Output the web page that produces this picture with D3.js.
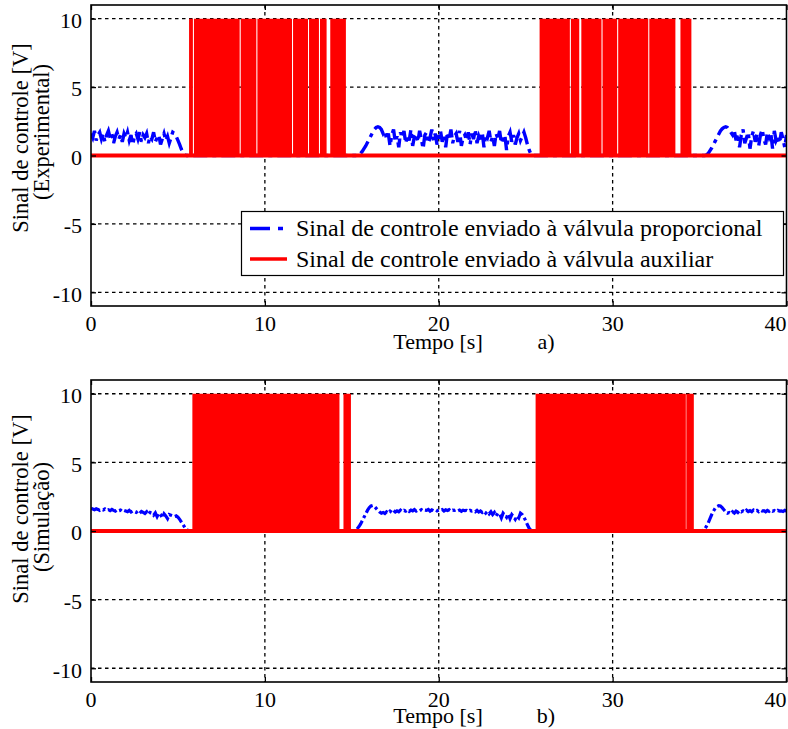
<!DOCTYPE html>
<html><head><meta charset="utf-8">
<script src="https://cdn.jsdelivr.net/npm/d3@7"></script>
</head><body style="margin:0;background:#fff">
<svg id="c" width="788" height="729" font-family="Liberation Serif"></svg>
<script>
// ---------- data ----------
const xTicks = [0, 10, 20, 30, 40];
const yTicks = [-10, -5, 0, 5, 10];
const xDomain = [0, 40];
const yDomain = [-11, 11];
const legendLabels = ["Sinal de controle enviado à válvula proporcional", "Sinal de controle enviado à válvula auxiliar"];

// auxiliary valve (0 / 10 V) : intervals where the signal is at 10 V
const auxExpOn = [[5.64,5.86],[5.92,8.55],[8.61,9.51],[9.57,11.56],[11.62,12.48],[12.54,13.11],[13.17,13.55],[13.76,14.66],
                  [25.80,27.54],[27.60,28.08],[28.20,29.36],[29.42,30.26],[30.32,32.05],[32.11,33.61],[33.90,34.53]];
const auxSimOn = [[5.83,14.29],[14.52,14.95],[25.57,34.21],[34.24,34.67]];

// proportional valve, experimental (segments sampled every 0.1 s)
const propExpStart = [0, 15.3, 35.3];
const propExpA = [1.6,1.3,1.8,1.1,1.5,1.7,1.2,1.6,1.0,1.5,
                  1.8,1.3,1.6,0.9,1.4,1.7,1.2,1.5,1.0,1.6,
                  1.3,1.7,1.1,1.5,0.8,1.4,1.6,1.2,1.7,1.0,
                  1.5,1.3,1.6,0.9,1.4,1.2,1.7,1.0,1.3,1.5,
                  0.8,1.2,1.6,1.1,1.4,0.9,1.3,
                  1.7,1.6,1.4,1.1,0.8,0.45,0.2,0.05,0,0];
const propExpB = [0,0.05,0.15,0.3,0.5,0.7,0.95,1.2,1.45,1.7,1.9,2.05,2.1,2.05,1.9,1.6,
                  1.8,1.2,1.6,0.7,1.5,1.9,1.0,1.4,0.6,1.7,
                  1.3,1.8,0.9,1.5,1.1,1.9,0.7,1.4,1.6,1.0,
                  1.8,1.2,0.5,1.5,1.7,0.9,1.3,1.9,1.1,1.6,
                  0.8,1.4,1.8,1.0,1.5,0.6,1.7,1.2,1.9,0.9,
                  1.4,1.6,1.0,1.8,0.7,1.3,1.5,1.1,1.7,0.8,
                  1.6,1.2,1.9,0.9,1.4,1.0,1.7,0.6,1.5,1.3,
                  1.8,1.0,1.4,0.7,1.6,1.2,1.8,0.9,1.3,1.5,
                  0.4,1.4,1.7,1.0,1.5,0.8,1.3,1.6,1.1,1.4,
                  1.7,1.3,0.8,0.4,0.1,0,0];
const propExpC = [0,0.05,0.15,0.35,0.55,0.8,1.05,1.3,1.55,1.8,1.95,2.05,2.1,2.05,1.9,1.7,1.5,
                  1.8,1.1,1.6,0.6,1.5,1.9,0.9,1.3,1.7,0.5,
                  1.4,1.8,1.0,1.6,0.7,1.5,1.9,1.2,0.8,1.7,
                  1.3,1.6,0.5,1.8,1.1,1.4,0.9,1.7,1.2,0.6,1.5];

// proportional valve, simulation (segments sampled every 0.1 s)
const propSimStart = [0, 15.0, 34.9];
const propSimA = [1.65,1.6,1.55,1.62,1.57,1.5,1.58,1.53,1.6,1.5,
                  1.55,1.48,1.57,1.5,1.45,1.55,1.48,1.52,1.42,1.5,
                  1.45,1.4,1.5,1.38,1.46,1.4,1.35,1.45,1.3,1.42,
                  1.35,1.28,1.4,1.2,1.35,1.3,1.15,1.32,1.05,1.3,
                  1.2,0.95,1.25,1.1,0.9,1.2,1.15,1.1,1.05,1.1,
                  1.0,0.85,0.65,0.45,0.25,0.1,0.02,0,0];
const propSimB = [0,0,0.05,0.15,0.3,0.5,0.75,1.0,1.25,1.5,
                  1.7,1.82,1.86,1.8,1.65,1.5,1.38,1.3,1.35,1.28,
                  1.4,1.3,1.45,1.35,1.5,1.38,1.47,1.4,1.52,1.42,
                  1.5,1.45,1.55,1.43,1.52,1.47,1.56,1.45,1.53,1.48,
                  1.55,1.46,1.52,1.5,1.57,1.45,1.54,1.48,1.55,1.47,
                  1.53,1.5,1.56,1.46,1.54,1.49,1.55,1.45,1.52,1.5,
                  1.55,1.47,1.53,1.44,1.52,1.48,1.5,1.42,1.5,1.45,
                  1.48,1.4,1.5,1.38,1.46,1.35,1.45,1.3,1.42,1.25,
                  1.4,1.2,1.35,1.1,1.3,1.25,0.95,1.3,1.15,1.0,
                  1.25,0.9,1.2,1.05,0.85,1.1,0.95,1.3,1.2,1.0,
                  0.75,0.45,0.2,0.05,0,0];
const propSimC = [0,0,0,0.05,0.15,0.35,0.6,0.9,1.2,1.45,1.65,1.78,1.84,1.82,1.7,1.55,1.4,1.3,1.35,
                  1.25,1.4,1.3,1.45,1.35,1.5,1.4,1.47,1.38,1.52,
                  1.42,1.48,1.4,1.53,1.44,1.5,1.41,1.52,1.45,1.48,
                  1.4,1.5,1.43,1.52,1.44,1.49,1.41,1.5,1.45,1.47,
                  1.42,1.5,1.45];
const sampleStep = 0.1;

// ---------- drawing ----------
const FONT = "Liberation Serif";
const svg = d3.select("#c");
svg.append("rect").attr("width",788).attr("height",729).attr("fill","#fff");

function segPoints(starts, segs){
  const pts = [];
  segs.forEach((vals,k)=>{
    vals.forEach((v,i)=>pts.push([starts[k]+i*sampleStep, v]));
  });
  return pts;
}
function txt(sel){ return sel.append("text").attr("font-family",FONT).attr("fill","#000"); }

const panels = [
  {top:5, bottom:306, on:auxExpOn, prop:segPoints(propExpStart,[propExpA,propExpB,propExpC]),
   lab2:"(Experimental)", tag:"a)", lab1c:138, lab2c:132, legend:true, bw:3.4, dash:"14,5,4,5", titleOff:43},
  {top:380, bottom:682, on:auxSimOn, prop:segPoints(propSimStart,[propSimA,propSimB,propSimC]),
   lab2:"(Simulação)", tag:"b)", lab1c:509, lab2c:517, legend:false, bw:3.2, dash:"10,3,3,3", titleOff:41}
];

const L = 91, R = 786.5;

panels.forEach((p,pi)=>{
  const x = d3.scaleLinear().domain(xDomain).range([L,R]);
  const y = d3.scaleLinear().domain(yDomain).range([p.bottom,p.top]);
  const g = svg.append("g");
  const cid = "clip"+pi;
  g.append("clipPath").attr("id",cid).append("rect")
    .attr("x",L).attr("y",p.top).attr("width",R-L).attr("height",p.bottom-p.top);

  // grid
  const grid = g.append("g").attr("stroke","#000").attr("stroke-width",1.3).attr("stroke-dasharray","3.5,3.5");
  grid.selectAll(".gx").data(xTicks.filter(d=>d>xDomain[0]&&d<xDomain[1])).join("line")
    .attr("x1",d=>x(d)).attr("x2",d=>x(d)).attr("y1",p.top).attr("y2",p.bottom);
  grid.selectAll(".gy").data(yTicks).join("line")
    .attr("x1",L).attr("x2",R).attr("y1",d=>y(d)).attr("y2",d=>y(d));

  const plot = g.append("g").attr("clip-path",`url(#${cid})`);

  // proportional (blue dash-dot)
  plot.append("path").datum(p.prop)
    .attr("fill","none").attr("stroke","#0000ff").attr("stroke-width",p.bw)
    .attr("stroke-dasharray",p.dash)
    .attr("d",d3.line().x(d=>x(d[0])).y(d=>y(d[1])));

  // auxiliary (red)
  const redPts = [];
  p.on.forEach(([a,b])=>{ redPts.push([a,0],[a,10],[b,10],[b,0]); });
  plot.append("path").datum(redPts).attr("fill","#ff0000").attr("stroke","none")
    .attr("d",d3.area().x(d=>x(d[0])).y0(y(0)).y1(d=>y(d[1])));
  plot.append("path").datum([[xDomain[0],0],[xDomain[1],0]])
    .attr("fill","none").attr("stroke","#ff0000").attr("stroke-width",4)
    .attr("d",d3.line().x(d=>x(d[0])).y(d=>y(d[1])));

  // ticks (inward on all sides)
  const tk = (axis, tr)=>{
    const a = g.append("g").attr("transform",tr).call(axis);
    a.select(".domain").remove();
    a.selectAll("text").remove();
    a.selectAll("line").attr("stroke","#000").attr("stroke-width",1.3);
  };
  tk(d3.axisLeft(y).tickValues(yTicks).tickSize(-5), `translate(${L},0)`);
  tk(d3.axisRight(y).tickValues(yTicks).tickSize(-5), `translate(${R},0)`);
  tk(d3.axisBottom(x).tickValues(xTicks).tickSize(-5), `translate(0,${p.bottom})`);
  tk(d3.axisTop(x).tickValues(xTicks).tickSize(-5), `translate(0,${p.top})`);

  // box
  g.append("rect").attr("x",L).attr("y",p.top).attr("width",R-L).attr("height",p.bottom-p.top)
    .attr("fill","none").attr("stroke","#000").attr("stroke-width",1.6);

  // tick labels
  yTicks.forEach(d=>{
    txt(g).attr("x",L-9).attr("y",y(d)).attr("dy","0.42em").attr("text-anchor","end")
      .attr("font-size",22).text(String(d));
  });
  xTicks.forEach(d=>{
    txt(g).attr("x",x(d)).attr("y",p.bottom+25)
      .attr("text-anchor",d===xDomain[1]?"end":"middle")
      .attr("font-size",22).text(String(d));
  });

  // axis titles
  txt(g).attr("x",438).attr("y",p.bottom+p.titleOff).attr("text-anchor","middle")
    .attr("font-size",22).text("Tempo [s]");
  txt(g).attr("x",546).attr("y",p.bottom+p.titleOff).attr("text-anchor","middle")
    .attr("font-size",22).text(p.tag);
  txt(g).attr("transform",`translate(28,${p.lab1c}) rotate(-90)`).attr("text-anchor","middle")
    .attr("font-size",22.5).text("Sinal de controle [V]");
  txt(g).attr("transform",`translate(49,${p.lab2c}) rotate(-90)`).attr("text-anchor","middle")
    .attr("font-size",22.5).text(p.lab2);

  if(p.legend){
    const lg = g.append("g");
    lg.append("rect").attr("x",241.5).attr("y",211.5).attr("width",542).attr("height",64)
      .attr("fill","#fff").attr("stroke","#000").attr("stroke-width",1.2);
    const rows = [228.5, 259];
    lg.append("line").attr("x1",250).attr("x2",287).attr("y1",rows[0]).attr("y2",rows[0])
      .attr("stroke","#0000ff").attr("stroke-width",3.5).attr("stroke-dasharray","20,8,5,8");
    lg.append("line").attr("x1",250).attr("x2",287).attr("y1",rows[1]).attr("y2",rows[1])
      .attr("stroke","#ff0000").attr("stroke-width",3.5);
    legendLabels.forEach((t,i)=>{
      txt(lg).attr("x",296).attr("y",rows[i]).attr("dy","0.33em")
        .attr("font-size",24).text(t);
    });
  }
});
</script>
</body></html>
